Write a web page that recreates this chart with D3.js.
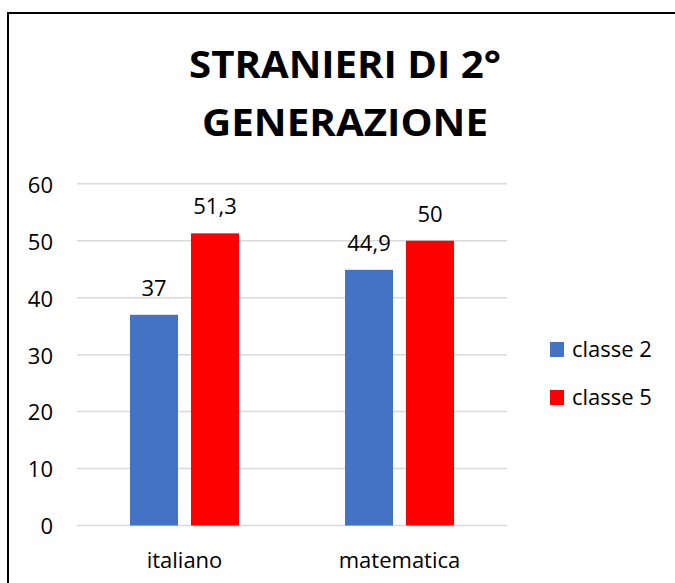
<!DOCTYPE html>
<head>
  <meta charset="utf-8">
  <script src="https://d3js.org/d3.v7.min.js"></script>
  <style>
    body { margin:0; background:#fff; }
    svg { display:block; font-family:"Open Sans", sans-serif; }
  </style>
</head>

<body>
  <svg width="675" height="583"></svg>
  <script>
    // data
    var subjects = ['italiano', 'matematica'];
    var series = ['classe 2', 'classe 5'];
    var classe2 = [37, 44.9];
    var classe5 = [51.3, 50];
    var yTicks = [0, 10, 20, 30, 40, 50, 60];
    var titleLines = ['STRANIERI DI 2°', 'GENERAZIONE'];
    var colors = ['#4472C4', '#FF0000'];

    var values = [classe2, classe5];
    var rows = subjects.map(function(s, i) {
      return { subject: s, vals: series.map(function(k, j) { return { key: k, v: values[j][i] }; }) };
    });

    var svg = d3.select('svg');

    // frame (right and bottom edges fall outside the window)
    svg.append('rect')
      .attr('x', 8).attr('y', 13)
      .attr('width', 700).attr('height', 620)
      .attr('fill', 'none')
      .attr('stroke', '#000')
      .attr('stroke-width', 2);

    // title
    svg.selectAll('.title')
      .data(titleLines)
      .enter().append('text')
      .attr('class', 'title')
      .attr('x', 345)
      .attr('y', function(d, i) { return 78 + i * 58; })
      .attr('text-anchor', 'middle')
      .attr('font-size', 37)
      .attr('font-weight', 'bold')
      .attr('textLength', function(d, i) { return i === 0 ? 312 : 286; })
      .attr('lengthAdjust', 'spacingAndGlyphs')
      .text(function(d) { return d; });

    var yScale = d3.scaleLinear()
      .domain([0, 60])
      .range([525.5, 183.8]);

    var x0 = d3.scaleBand()
      .domain(subjects)
      .range([77, 507])
      .paddingInner(0.493)
      .paddingOuter(0.2465);

    var x1 = d3.scaleBand()
      .domain(series)
      .range([0, x0.bandwidth()])
      .paddingInner(0.213);

    // gridlines
    svg.append('g')
      .selectAll('line')
      .data(yTicks)
      .enter().append('line')
      .attr('x1', 77).attr('x2', 507)
      .attr('y1', function(d) { return yScale(d); })
      .attr('y2', function(d) { return yScale(d); })
      .attr('stroke', '#d9d9d9')
      .attr('stroke-width', 1.5);

    // y axis labels
    var yAxis = d3.axisLeft(yScale).tickValues(yTicks).tickSize(0).tickPadding(0);
    var gy = svg.append('g')
      .attr('transform', 'translate(' + [53, 0] + ')')
      .call(yAxis);
    gy.select('.domain').remove();
    gy.selectAll('text')
      .attr('font-size', 22)
      .attr('font-family', '"Open Sans", sans-serif')
      .attr('fill', '#000')
      .attr('dy', '0.38em');

    // x axis labels
    var xAxis = d3.axisBottom(x0).tickSize(0).tickPadding(0);
    var gx = svg.append('g')
      .attr('transform', 'translate(' + [0, 568] + ')')
      .call(xAxis);
    gx.select('.domain').remove();
    gx.selectAll('text')
      .attr('font-size', 22)
      .attr('font-family', '"Open Sans", sans-serif')
      .attr('fill', '#000')
      .attr('dy', 0);

    // bars
    var groups = svg.selectAll('.grp')
      .data(rows)
      .enter().append('g')
      .attr('class', 'grp')
      .attr('transform', function(d) { return 'translate(' + [x0(d.subject), 0] + ')'; });

    groups.selectAll('rect')
      .data(function(d) { return d.vals; })
      .enter().append('rect')
      .attr('x', function(d) { return x1(d.key); })
      .attr('width', x1.bandwidth())
      .attr('y', function(d) { return yScale(d.v); })
      .attr('height', function(d) { return yScale(0) - yScale(d.v); })
      .attr('fill', function(d, i) { return colors[i]; });

    groups.selectAll('.val')
      .data(function(d) { return d.vals; })
      .enter().append('text')
      .attr('class', 'val')
      .attr('x', function(d) { return x1(d.key) + x1.bandwidth() / 2; })
      .attr('y', function(d) { return yScale(d.v) - 19; })
      .attr('text-anchor', 'middle')
      .attr('font-size', 22)
      .text(function(d) { return String(d.v).replace('.', ','); });

    // legend
    var legend = svg.selectAll('.legend')
      .data(series)
      .enter().append('g')
      .attr('class', 'legend')
      .attr('transform', function(d, i) { return 'translate(' + [550, 342 + i * 48] + ')'; });

    legend.append('rect')
      .attr('width', 14).attr('height', 15)
      .attr('fill', function(d, i) { return colors[i]; });

    legend.append('text')
      .attr('x', 22).attr('y', 15)
      .attr('font-size', 22)
      .text(function(d) { return d; });
  </script>
</body>
